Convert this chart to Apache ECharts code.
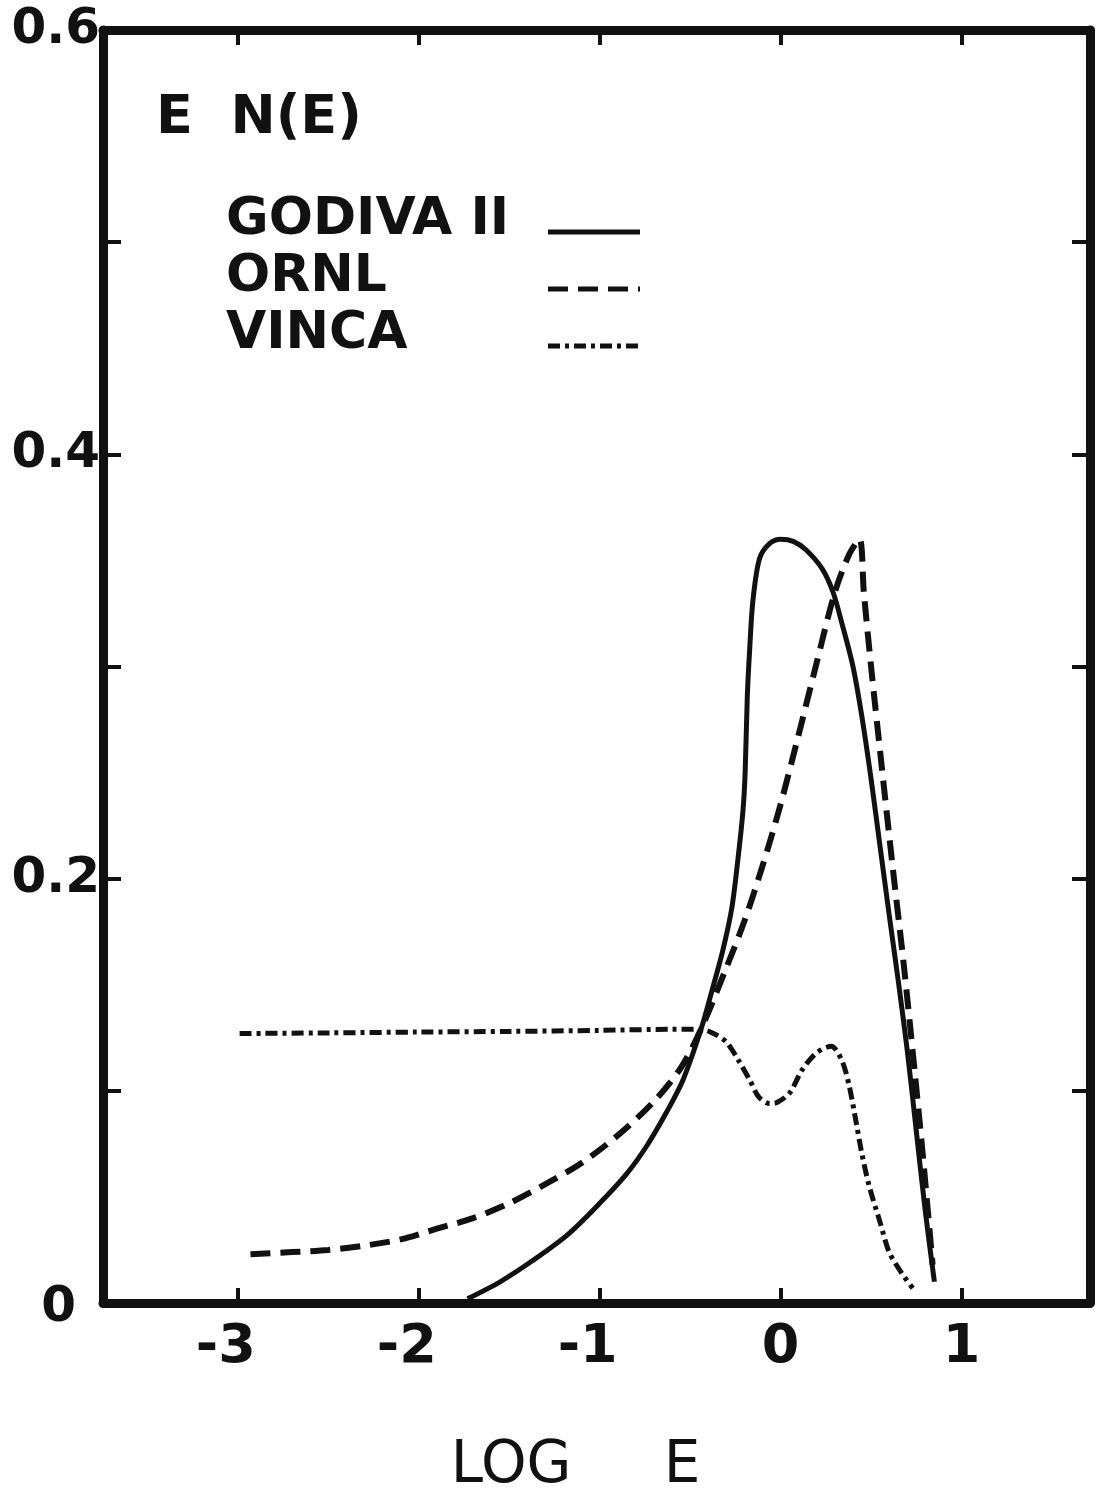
<!DOCTYPE html>
<html>
<head>
<meta charset="utf-8">
<script src="https://cdn.jsdelivr.net/npm/echarts@6/dist/echarts.min.js"></script>
<style>
html,body{margin:0;padding:0;background:#fff;}
#chart{width:1096px;height:1501px;}
</style>
</head>
<body>
<div id="chart"></div>
<script>
// ---- data (log E, E·N(E)) ----
const xTickValues = [-3, -2, -1, 0, 1];
const xTickLabels = ['-3', '-2', '-1', '0', '1'];
const yLabelValues = [0, 0.2, 0.4, 0.6];
const yLabelTexts = ['0', '0.2', '0.4', '0.6'];
const yTickValues = [0, 0.1, 0.2, 0.3, 0.4, 0.5, 0.6];

const seriesNames = ['GODIVA II', 'ORNL', 'VINCA'];

const godivaX = [-1.73, -1.55, -1.37, -1.18, -1.0, -0.85, -0.74, -0.63, -0.54, -0.44, -0.38, -0.32, -0.27, -0.236, -0.208, -0.196, -0.184, -0.171, -0.153, -0.116, -0.06, 0.0, 0.07, 0.14, 0.23, 0.29, 0.34, 0.40, 0.45, 0.50, 0.55, 0.60, 0.65, 0.70, 0.75, 0.80, 0.85];
const godivaY = [0.002, 0.010, 0.020, 0.032, 0.047, 0.061, 0.074, 0.090, 0.105, 0.129, 0.147, 0.166, 0.186, 0.209, 0.232, 0.250, 0.286, 0.308, 0.331, 0.351, 0.358, 0.360, 0.359, 0.355, 0.346, 0.335, 0.320, 0.300, 0.276, 0.247, 0.215, 0.183, 0.152, 0.119, 0.081, 0.043, 0.010];

const ornlX = [-2.93, -2.7, -2.5, -2.3, -2.1, -1.9, -1.7, -1.5, -1.3, -1.1, -0.9, -0.7, -0.55, -0.44, -0.3, -0.2, -0.1, 0.0, 0.1, 0.2, 0.3, 0.38, 0.436, 0.46, 0.50, 0.56, 0.62, 0.68, 0.74, 0.79, 0.84];
const ornlY = [0.023, 0.024, 0.025, 0.027, 0.030, 0.035, 0.040, 0.047, 0.056, 0.066, 0.079, 0.095, 0.111, 0.129, 0.158, 0.180, 0.206, 0.235, 0.268, 0.302, 0.335, 0.353, 0.360, 0.335, 0.300, 0.252, 0.205, 0.160, 0.110, 0.066, 0.018];

const vincaX = [-2.99, -2.5, -2.0, -1.5, -1.0, -0.6, -0.44, -0.37, -0.30, -0.23, -0.17, -0.12, -0.06, -0.02, 0.05, 0.12, 0.20, 0.28, 0.34, 0.38, 0.42, 0.45, 0.49, 0.55, 0.60, 0.67, 0.73];
const vincaY = [0.127, 0.1273, 0.1277, 0.128, 0.1285, 0.129, 0.129, 0.127, 0.123, 0.114, 0.105, 0.097, 0.094, 0.0945, 0.099, 0.110, 0.118, 0.121, 0.114, 0.102, 0.084, 0.070, 0.055, 0.038, 0.024, 0.014, 0.007];

function zip(xs, ys) { return xs.map((x, i) => [x, ys[i]]); }

const FONT = 'DejaVu Sans';
const INK = '#111';

const chart = echarts.init(document.getElementById('chart'), null, {renderer: 'canvas'});

const baseX = {
  type: 'value', min: -3.745, max: 1.71,
  axisLine: {show: true, onZero: false, lineStyle: {color: INK, width: 9}},
  axisTick: {show: true, inside: true, length: 15, customValues: xTickValues, lineStyle: {color: INK, width: 4}},
  splitLine: {show: false}
};
const baseY = {
  type: 'value', min: 0, max: 0.6,
  axisLine: {show: true, onZero: false, lineStyle: {color: INK, width: 9}},
  axisTick: {show: true, inside: true, length: 18, customValues: yTickValues, lineStyle: {color: INK, width: 4}},
  splitLine: {show: false}
};

chart.setOption({
  backgroundColor: '#ffffff',
  animation: false,
  grid: {left: 103, right: 6, top: 30, bottom: 161, containLabel: false},
  xAxis: [
    Object.assign({}, baseX, {
      position: 'bottom',
      name: 'LOG     E',
      nameLocation: 'middle',
      nameGap: 135,
      nameTextStyle: {fontFamily: FONT, fontSize: 58, color: INK, padding: [0, 42, 0, 0]},
      axisLabel: {
        show: true, customValues: xTickValues, margin: 18,
        fontFamily: FONT, fontSize: 54, fontWeight: 'bold', color: INK,
        formatter: v => {
          const s = xTickLabels[xTickValues.indexOf(Math.round(v))];
          return s.charAt(0) === '-' ? '{n|' + s + '}' : s;
        },
        rich: {n: {fontFamily: FONT, fontSize: 54, fontWeight: 'bold', color: INK, padding: [0, 24, 0, 0]}}
      }
    }),
    Object.assign({}, baseX, {position: 'top', axisLabel: {show: false}})
  ],
  yAxis: [
    Object.assign({}, baseY, {
      position: 'left',
      axisLabel: {
        show: true, customValues: yLabelValues, margin: 3,
        fontFamily: FONT, fontSize: 50, fontWeight: 'bold', color: INK,
        formatter: v => {
          const i = yLabelValues.findIndex(t => Math.abs(t - v) < 1e-9);
          const s = i >= 0 ? yLabelTexts[i] : '';
          return s === '0' ? '{z|0}' : s;
        },
        rich: {z: {fontFamily: FONT, fontSize: 50, color: INK, padding: [10, 24, 0, 0]}}
      }
    }),
    Object.assign({}, baseY, {position: 'right', axisLabel: {show: false}})
  ],
  legend: {
    show: true,
    orient: 'vertical',
    left: 226, top: 194,
    padding: 0,
    align: 'right',
    itemWidth: 92, itemHeight: 16,
    itemGap: -19,
    data: seriesNames,
    selectedMode: false,
    formatter: name => '{a|' + name + '}',
    textStyle: {
      fontFamily: FONT, fontSize: 52, fontWeight: 'bold', color: INK,
      rich: {a: {fontFamily: FONT, fontSize: 52, fontWeight: 'bold', color: INK, width: 317, align: 'left', lineHeight: 34, padding: [0, 0, 24, 0]}}
    },
    lineStyle: {width: 5},
    itemStyle: {opacity: 0}
  },
  graphic: [
    {type: 'text', left: 156, top: 92, silent: true,
     style: {text: 'E  N(E)', fontFamily: FONT, fontSize: 54, fontWeight: 'bold', fill: INK}}
  ],
  series: [
    {
      name: seriesNames[0], type: 'line', xAxisIndex: 0, yAxisIndex: 0,
      data: zip(godivaX, godivaY), symbol: 'none', smooth: 0.3,
      lineStyle: {color: INK, width: 5, type: 'solid'}
    },
    {
      name: seriesNames[1], type: 'line', xAxisIndex: 0, yAxisIndex: 0,
      data: zip(ornlX, ornlY), symbol: 'none', smooth: 0.3,
      lineStyle: {color: INK, width: 6, type: [20, 10]}
    },
    {
      name: seriesNames[2], type: 'line', xAxisIndex: 0, yAxisIndex: 0,
      data: zip(vincaX, vincaY), symbol: 'none', smooth: 0.3,
      lineStyle: {color: INK, width: 5, type: [12, 5, 4, 5]}
    }
  ]
});
</script>
</body>
</html>
